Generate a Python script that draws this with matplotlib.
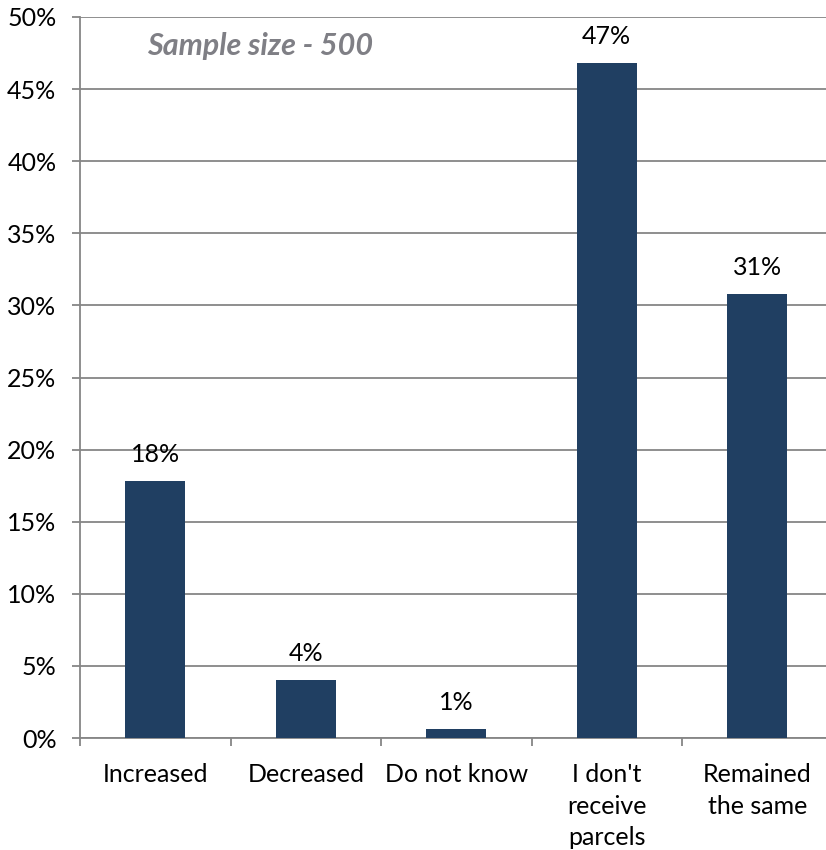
import matplotlib
matplotlib.use("Agg")
import matplotlib.pyplot as plt
from matplotlib.ticker import FixedLocator, PercentFormatter

categories = ["Increased", "Decreased", "Do not know", "I don't\nreceive\nparcels", "Remained\nthe same"]
values = [17.8, 4.0, 0.6, 46.8, 30.8]
y_ticks = [0, 5, 10, 15, 20, 25, 30, 35, 40, 45, 50]
note = "Sample size - 500"

plt.rcParams["font.family"] = ["Lato", "DejaVu Sans"]

W, H = 826, 850
fig = plt.figure(figsize=(W / 100, H / 100), dpi=100)
ax = fig.add_axes([80 / W, (H - 738) / H, 752.5 / W, 721 / H])

bar_color = "#203F62"
grid_color = "#868686"
fs = 18

x = list(range(len(categories)))
bars = ax.bar(x, values, width=0.4, color=bar_color, zorder=3)

for xi, v in zip(x, values):
    ax.annotate(f"{v:.0f}%", (xi, v), xytext=(0, 11), textcoords="offset points",
                ha="center", va="bottom", fontsize=fs, color="black")

ax.set_xlim(-0.5, len(categories) - 0.5)
ax.set_ylim(0, 50)
ax.set_yticks(y_ticks)
ax.yaxis.set_major_formatter(PercentFormatter(decimals=0))
ax.grid(axis="y", color=grid_color, linewidth=1.3, zorder=0)

ax.set_xticks(x)
ax.set_xticklabels(categories, fontsize=fs, linespacing=1.45)
ax.xaxis.set_minor_locator(FixedLocator([i - 0.5 for i in range(len(categories) + 1)]))
ax.tick_params(axis="x", which="major", length=0, pad=18)
ax.tick_params(axis="x", which="minor", length=6, width=1.3, color=grid_color)
ax.tick_params(axis="y", length=6, width=1.3, color=grid_color, labelsize=fs, pad=11)

for side in ("top", "right"):
    ax.spines[side].set_visible(False)
for side in ("left", "bottom"):
    ax.spines[side].set_color(grid_color)
    ax.spines[side].set_linewidth(1.3)

ax.text(0.70, 48.0, note, ha="center", va="center", fontsize=22,
        fontweight="bold", fontstyle="italic", color="#7F7F85")

fig.savefig("out.png", dpi=100)
